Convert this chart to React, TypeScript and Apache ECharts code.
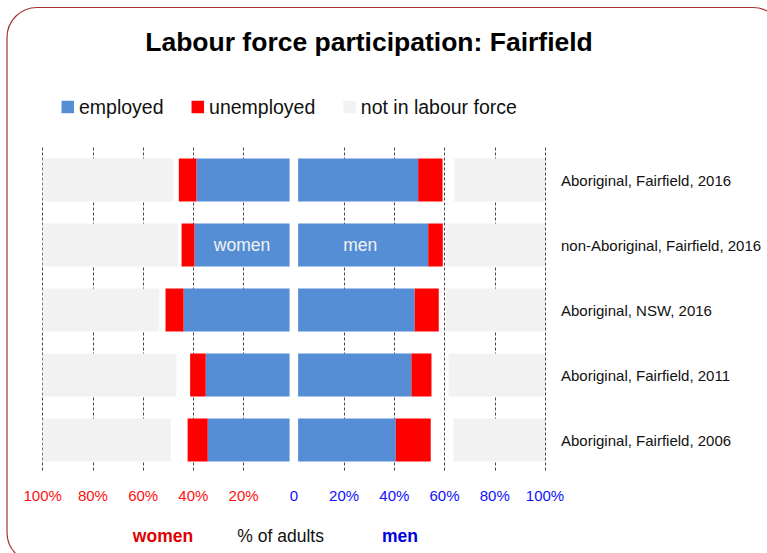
import React, { useEffect, useRef } from "react";
import * as echarts from "echarts";

const categories = [
  "Aboriginal, Fairfield, 2016",
  "non-Aboriginal, Fairfield, 2016",
  "Aboriginal, NSW, 2016",
  "Aboriginal, Fairfield, 2011",
  "Aboriginal, Fairfield, 2006",
];
const womenEmployed = [37.1, 37.9, 42.2, 33.4, 32.6];
const womenUnemployed = [7.0, 5.1, 7.2, 6.2, 8.0];
const womenNotInLF = [52.1, 53.9, 46.4, 53.2, 51.1];
const menEmployed = [47.8, 51.8, 46.4, 45.1, 38.9];
const menUnemployed = [9.7, 5.8, 9.6, 8.0, 13.9];
const menNotInLF = [36.1, 39.4, 39.4, 38.4, 36.4];
const centreGap = 1.7;
const axisTicks = [-100, -80, -60, -40, -20, 0, 20, 40, 60, 80, 100];

const FONT = "'Liberation Sans', Arial, sans-serif";
const BLUE = "#558ED5";
const RED = "#FF0000";
const GREY = "#F2F2F2";

export default function App() {
  const ref = useRef<HTMLDivElement>(null);
  useEffect(() => {
    if (!ref.current) return;
    const chart = echarts.init(ref.current, undefined, { renderer: "svg" });
    const neg = (a: number[]) => a.map((v) => -v);
    const splitColors = axisTicks.map((t) => (t === 0 ? "rgba(0,0,0,0)" : "#4a4a4a"));
    const barW = 43;
    const option: any = {
      animation: false,
      textStyle: { fontFamily: FONT },
      legend: {
        data: ["employed", "unemployed", "not in labour force"],
        left: 61.5,
        top: 97,
        padding: 0,
        icon: "rect",
        itemWidth: 12.5,
        itemHeight: 12.5,
        itemGap: 28,
        textStyle: { fontSize: 19.5, color: "#111", fontFamily: FONT },
        selectedMode: false,
      },
      grid: { left: 42.7, right: 222, top: 147.5, height: 325 },
      xAxis: {
        type: "value",
        min: -100,
        max: 100,
        interval: 20,
        axisLine: { show: false },
        axisTick: { show: false },
        splitLine: {
          show: true,
          lineStyle: { color: splitColors, type: [3, 2], width: 1 },
        },
        axisLabel: {
          margin: 15,
          fontSize: 15,
          fontFamily: FONT,
          formatter: (v: number) => (v === 0 ? "0" : Math.abs(v) + "%"),
          color: (v: any) => (Number(v) < 0 ? "#FF1010" : "#1010FF"),
        },
      },
      yAxis: {
        type: "category",
        data: categories,
        inverse: true,
        position: "right",
        axisLine: { show: false },
        axisTick: { show: false },
        splitLine: { show: false },
        axisLabel: { margin: 16, fontSize: 15, color: "#111", fontFamily: FONT },
      },
      series: [
        {
          name: "gapW",
          type: "bar",
          stack: "lf",
          barWidth: barW,
          barGap: "-100%",
          itemStyle: { color: "rgba(0,0,0,0)" },
          data: categories.map(() => -centreGap),
          silent: true,
        },
        {
          name: "gapM",
          type: "bar",
          stack: "lf",
          barWidth: barW,
          barGap: "-100%",
          itemStyle: { color: "rgba(0,0,0,0)" },
          data: categories.map(() => centreGap),
          silent: true,
        },
        {
          name: "employed",
          type: "bar",
          stack: "lf",
          barWidth: barW,
          barGap: "-100%",
          itemStyle: { color: BLUE },
          data: neg(womenEmployed).map((v, i) =>
            i === 1
              ? {
                  value: v,
                  label: {
                    show: true,
                    position: "inside",
                    formatter: "women",
                    color: "#F2F2F2",
                    fontSize: 17.5,
                    fontFamily: FONT,
                  },
                }
              : v
          ),
        },
        {
          name: "employed",
          type: "bar",
          stack: "lf",
          barWidth: barW,
          barGap: "-100%",
          itemStyle: { color: BLUE },
          data: menEmployed.map((v, i) =>
            i === 1
              ? {
                  value: v,
                  label: {
                    show: true,
                    position: "inside",
                    offset: [-3, 0],
                    formatter: "men",
                    color: "#F2F2F2",
                    fontSize: 17.5,
                    fontFamily: FONT,
                  },
                }
              : v
          ),
        },
        {
          name: "unemployed",
          type: "bar",
          stack: "lf",
          barWidth: barW,
          barGap: "-100%",
          itemStyle: { color: RED },
          data: neg(womenUnemployed),
        },
        {
          name: "unemployed",
          type: "bar",
          stack: "lf",
          barWidth: barW,
          barGap: "-100%",
          itemStyle: { color: RED },
          data: menUnemployed,
        },
        {
          name: "baseW",
          type: "bar",
          stack: "nilf",
          barWidth: barW,
          barGap: "-100%",
          itemStyle: { color: "rgba(0,0,0,0)" },
          data: womenNotInLF.map((v) => -(100 - v)),
          silent: true,
        },
        {
          name: "baseM",
          type: "bar",
          stack: "nilf",
          barWidth: barW,
          barGap: "-100%",
          itemStyle: { color: "rgba(0,0,0,0)" },
          data: menNotInLF.map((v) => 100 - v),
          silent: true,
        },
        {
          name: "not in labour force",
          type: "bar",
          stack: "nilf",
          barWidth: barW,
          barGap: "-100%",
          itemStyle: { color: GREY },
          data: neg(womenNotInLF),
        },
        {
          name: "not in labour force",
          type: "bar",
          stack: "nilf",
          barWidth: barW,
          barGap: "-100%",
          itemStyle: { color: GREY },
          data: menNotInLF,
        },
      ],
      graphic: [
        {
          type: "rect",
          shape: { x: 7, y: 7.5, width: 776, height: 555, r: 30 },
          style: { fill: "none", stroke: "#A83232", lineWidth: 1.2 },
          z: -1,
        },
        {
          type: "text",
          x: 369,
          y: 42,
          style: {
            text: "Labour force participation: Fairfield",
            font: `bold 26.5px ${FONT}`,
            fill: "#000",
            textAlign: "center",
            textVerticalAlign: "middle",
          },
        },
        {
          type: "text",
          x: 163,
          y: 536,
          style: {
            text: "women",
            font: `bold 17.5px ${FONT}`,
            fill: "#E00000",
            textAlign: "center",
            textVerticalAlign: "middle",
          },
        },
        {
          type: "text",
          x: 280.6,
          y: 536,
          style: {
            text: "% of adults",
            font: `17.5px ${FONT}`,
            fill: "#111",
            textAlign: "center",
            textVerticalAlign: "middle",
          },
        },
        {
          type: "text",
          x: 400,
          y: 536,
          style: {
            text: "men",
            font: `bold 17.5px ${FONT}`,
            fill: "#0000E0",
            textAlign: "center",
            textVerticalAlign: "middle",
          },
        },
      ],
    };
    chart.setOption(option);
    return () => chart.dispose();
  }, []);
  return (
    <div
      ref={ref}
      style={{ position: "fixed", left: 0, top: 0, width: 767, height: 553, background: "#fff" }}
    />
  );
}
